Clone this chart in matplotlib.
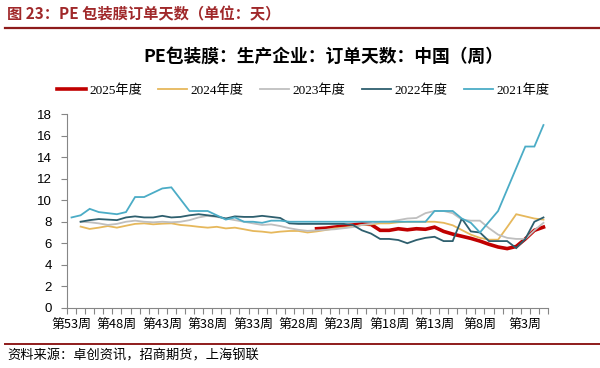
import numpy as np
import matplotlib
matplotlib.use("Agg")
import matplotlib.pyplot as plt

plt.rcParams['font.family'] = ['Noto Sans CJK SC', 'DejaVu Sans']

# 周次：第53周 → 第1周
semanas = [f"第{n}周" for n in range(53, 0, -1)]

na = None
# 2025年度（从第26周开始）
v2025 = [na] * 27 + [7.35, 7.4, 7.5, 7.6, 7.7, 7.8, 7.75, 7.2, 7.2, 7.35, 7.25, 7.35, 7.3,
                     7.5, 7.1, 6.85, 6.65, 6.45, 6.2, 5.9, 5.65, 5.5, 5.7, 6.4, 7.2, 7.5]
v2024 = [na, 7.55, 7.33, 7.45, 7.6, 7.45, 7.63, 7.8, 7.85, 7.76, 7.82, 7.85, 7.7, 7.63,
         7.53, 7.45, 7.53, 7.38, 7.45, 7.3, 7.14, 7.08, 6.98, 7.08, 7.14, 7.14, 7.0, 7.1,
         7.23, 7.38, 7.45, 7.55, 7.7, 7.76, 7.85, 7.85, 7.95, 8.0, 8.0, 8.0, 8.0, 7.9,
         7.67, 7.23, 6.8, 6.5, 6.33, 6.33, 7.5, 8.7, 8.5, 8.3, 8.2]
v2023 = [na, 8.0, 7.95, 7.85, 7.7, 7.8, 8.0, 8.1, 8.0, 7.95, 8.0, 7.95, 8.0, 8.15, 8.4,
         8.55, 8.45, 8.3, 8.15, 8.0, 7.85, 7.7, 7.75, 7.6, 7.4, 7.25, 7.15, 7.2, 7.25,
         7.3, 7.4, 7.5, 7.7, 7.8, 8.0, 8.0, 8.15, 8.3, 8.35, 8.8, 9.0, 9.0, 8.8, 8.2,
         8.1, 8.1, 7.4, 6.8, 6.5, 6.4, 6.4, 7.2, 7.9]
v2022 = [na, 8.0, 8.15, 8.25, 8.2, 8.15, 8.4, 8.5, 8.4, 8.4, 8.55, 8.4, 8.45, 8.6, 8.7,
         8.6, 8.5, 8.3, 8.5, 8.45, 8.45, 8.55, 8.45, 8.35, 7.85, 7.8, 7.8, 7.8, 7.8,
         7.8, 7.8, 7.7, 7.2, 6.9, 6.4, 6.4, 6.3, 6.0, 6.3, 6.5, 6.6, 6.2, 6.2, 8.3,
         7.1, 7.0, 6.2, 6.2, 6.2, 5.55, 6.4, 8.0, 8.4]
v2021 = [8.4, 8.6, 9.2, 8.9, 8.8, 8.7, 8.9, 10.3, 10.3, 10.7, 11.1, 11.2, 10.1, 9.0,
         9.0, 9.0, 8.6, 8.2, 8.4, 8.0, 8.0, 7.9, 8.1, 8.1, 8.0, 8.0, 8.0, 8.0, 8.0,
         8.0, 8.0, 8.0, 8.0, 8.0, 8.0, 8.0, 8.0, 8.0, 8.0, 8.0, 9.0, 9.0, 9.0, 8.3,
         7.9, 7.0, 8.0, 9.0, 11.0, 13.0, 15.0, 15.0, 17.0]

series = [
    ("2025年度", v2025, "#C00000", 2.6),
    ("2024年度", v2024, "#E6B85C", 1.3),
    ("2023年度", v2023, "#BFBFBF", 1.3),
    ("2022年度", v2022, "#2E5F6E", 1.3),
    ("2021年度", v2021, "#4BACC6", 1.3),
]

fig = plt.figure(figsize=(6.0, 3.68), dpi=100)
ax = fig.add_axes([67 / 600, 1 - 307.7 / 368, 481 / 600, 193.4 / 368])

x = np.arange(len(semanas))
for nombre, valores, color, ancho in series:
    y = np.array([np.nan if v is None else v for v in valores], dtype=float)
    ax.plot(x, y, color=color, lw=ancho, label=nombre, solid_joinstyle='miter')

ax.set_xlim(-0.5, len(semanas) - 0.5)
ax.set_ylim(0, 18)
ax.set_yticks(np.arange(0, 19, 2))

# etiquetas cada 5 semanas, marcas entre categorías
pos_etiquetas = x[::5]
ax.set_xticks(pos_etiquetas)
ax.set_xticklabels([semanas[i] for i in pos_etiquetas], fontsize=9.3)
ax.set_xticks(np.arange(-0.5, len(semanas)), minor=True)
ax.tick_params(axis='x', which='major', length=0, pad=8)
ax.tick_params(axis='x', which='minor', length=4, color='#868686', width=0.8)
ax.tick_params(axis='y', length=4, color='#868686', width=0.8, pad=7)
for lab in ax.get_yticklabels():
    lab.set_family(['Liberation Sans', 'DejaVu Sans'])
    lab.set_fontsize(9.5)

for lado in ['top', 'right']:
    ax.spines[lado].set_visible(False)
for lado in ['left', 'bottom']:
    ax.spines[lado].set_color('#868686')
    ax.spines[lado].set_linewidth(0.8)

ley = ax.legend(loc='center', bbox_to_anchor=(0.505, 1 - 90.7 / 368),
                bbox_transform=fig.transFigure, ncol=5, frameon=False,
                handlelength=2.2, handletextpad=0.25, columnspacing=1.25,
                prop={'family': ['Liberation Serif', 'Noto Sans CJK SC'], 'size': 9.5})

# encabezados
fig.text(7 / 600, 1 - 14 / 368, "图 23：PE 包装膜订单天数（单位：天）", fontsize=11,
         fontweight='bold', color='#A0282A', va='center', ha='left')
fig.add_artist(plt.Line2D([5 / 600, 1], [1 - 27.5 / 368] * 2, color='#8E1B1B', lw=1.6))
fig.text(323 / 600, 1 - 57 / 368, "PE包装膜：生产企业：订单天数：中国（周）", fontsize=12.8,
         fontweight='bold', color='black', va='center', ha='center')
fig.add_artist(plt.Line2D([5 / 600, 1], [1 - 343.5 / 368] * 2, color='#8E1B1B', lw=1.4))
fig.text(7 / 600, 1 - 356 / 368, "资料来源：卓创资讯，招商期货，上海钢联", fontsize=9.5,
         color='black', va='center', ha='left')

fig.savefig("out.png", dpi=100)
